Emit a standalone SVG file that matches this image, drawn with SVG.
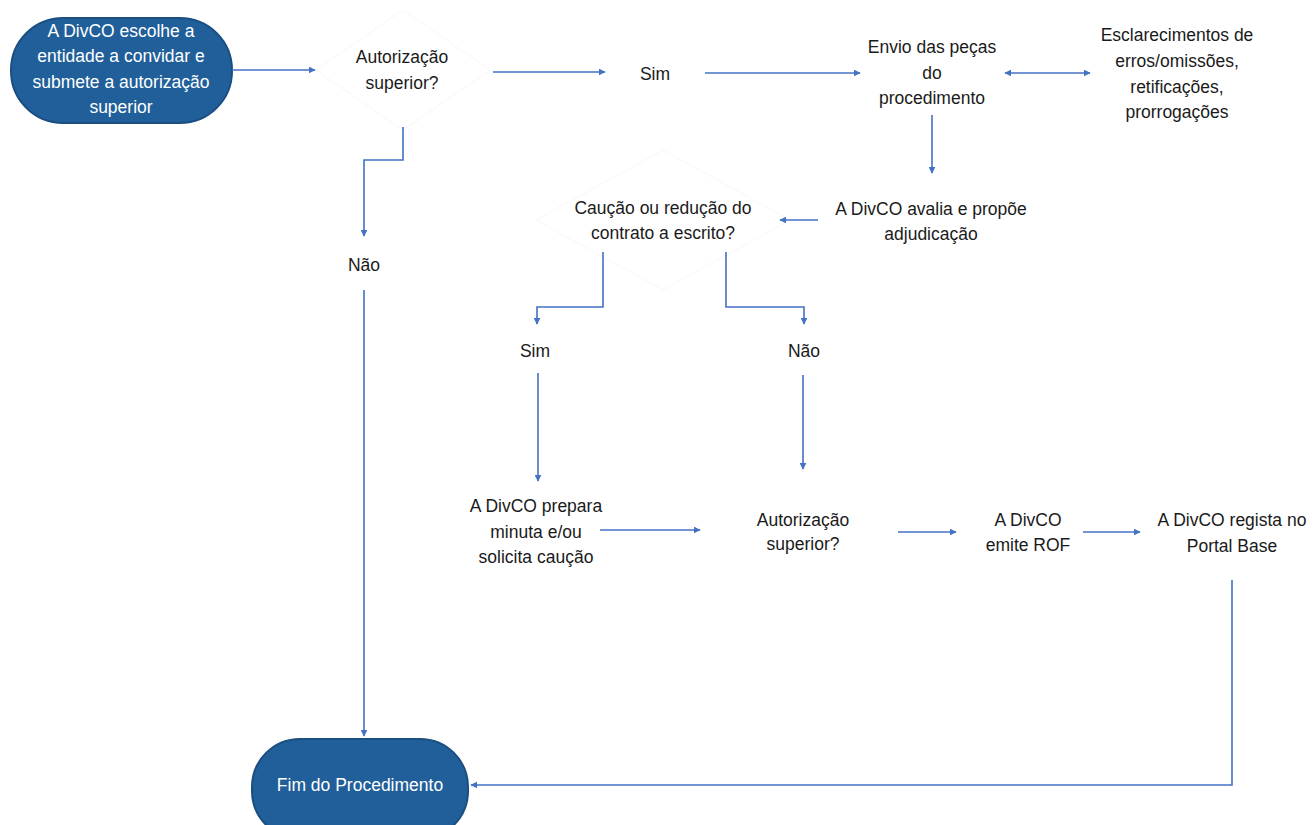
<svg xmlns="http://www.w3.org/2000/svg" width="1314" height="825" viewBox="0 0 1314 825">
<style>
.t{font-family:"Liberation Sans",Arial,sans-serif;font-size:17.5px;fill:#1a1a1a;text-anchor:middle}
.w{fill:#ffffff}
.term{fill:#215f9a;stroke:#1b4f82;stroke-width:2}
.ghost{fill:#ffffff;stroke:#fafafa;stroke-width:1.5}
.c{fill:none;stroke:#4472c4;stroke-width:1.6}
</style>
<defs>
<marker id="ah" viewBox="0 0 10 10" refX="9" refY="5" markerWidth="7" markerHeight="7" orient="auto-start-reverse" markerUnits="userSpaceOnUse">
<path d="M0,0 L10,5 L0,10 z" fill="#4472c4"/>
</marker>
</defs>
<rect width="1314" height="825" fill="#ffffff"/>

<g id="n-start">
<rect class="term" x="11" y="18" width="221" height="105" rx="52" ry="52"/>
<text class="t w" x="121" y="37">A DivCO escolhe a</text>
<text class="t w" x="121" y="62">entidade a convidar e</text>
<text class="t w" x="121" y="88">submete a autorização</text>
<text class="t w" x="121" y="113">superior</text>
</g>

<g id="n-auth1">
<path class="ghost" d="M403,10 L490,70 L403,130 L316,70 z"/>
<text class="t" x="402" y="63">Autorização</text>
<text class="t" x="402" y="89">superior?</text>
</g>

<g id="n-sim1">
<text class="t" x="655" y="80">Sim</text>
</g>

<g id="n-envio">
<text class="t" x="932" y="53">Envio das peças</text>
<text class="t" x="932" y="79">do</text>
<text class="t" x="932" y="104">procedimento</text>
</g>

<g id="n-escl">
<text class="t" x="1177" y="41">Esclarecimentos de</text>
<text class="t" x="1177" y="67">erros/omissões,</text>
<text class="t" x="1177" y="93">retificações,</text>
<text class="t" x="1177" y="118">prorrogações</text>
</g>

<g id="n-nao1">
<text class="t" x="364" y="271">Não</text>
</g>

<g id="n-avalia">
<text class="t" x="931" y="215">A DivCO avalia e propõe</text>
<text class="t" x="931" y="240">adjudicação</text>
</g>

<g id="n-caucao">
<path class="ghost" d="M663,150 L790,220 L663,290 L536,220 z"/>
<text class="t" x="663" y="214">Caução ou redução do</text>
<text class="t" x="663" y="239">contrato a escrito?</text>
</g>

<g id="n-sim2">
<text class="t" x="535" y="357">Sim</text>
</g>

<g id="n-nao2">
<text class="t" x="804" y="357">Não</text>
</g>

<g id="n-prepara">
<text class="t" x="536" y="512">A DivCO prepara</text>
<text class="t" x="536" y="538">minuta e/ou</text>
<text class="t" x="536" y="563">solicita caução</text>
</g>

<g id="n-auth2">
<text class="t" x="803" y="526">Autorização</text>
<text class="t" x="803" y="550">superior?</text>
</g>

<g id="n-rof">
<text class="t" x="1028" y="526">A DivCO</text>
<text class="t" x="1028" y="551">emite ROF</text>
</g>

<g id="n-regista">
<text class="t" x="1232" y="526">A DivCO regista no</text>
<text class="t" x="1232" y="552">Portal Base</text>
</g>

<g id="n-fim">
<rect class="term" x="252" y="739" width="216" height="100" rx="48" ry="48"/>
<text class="t w" x="360" y="791">Fim do Procedimento</text>
</g>

<g id="connectors">
<path class="c" d="M232,70 H315" marker-end="url(#ah)"/>
<path class="c" d="M493,72 H605" marker-end="url(#ah)"/>
<path class="c" d="M705,73 H860" marker-end="url(#ah)"/>
<path class="c" d="M1005,73 H1090" marker-start="url(#ah)" marker-end="url(#ah)"/>
<path class="c" d="M403,127 V160 H364 V236" marker-end="url(#ah)"/>
<path class="c" d="M364,290 V736" marker-end="url(#ah)"/>
<path class="c" d="M932,115 V173" marker-end="url(#ah)"/>
<path class="c" d="M818,220 H780" marker-end="url(#ah)"/>
<path class="c" d="M603,252 V307 H537 V324" marker-end="url(#ah)"/>
<path class="c" d="M726,252 V307 H804 V324" marker-end="url(#ah)"/>
<path class="c" d="M538,373 V481" marker-end="url(#ah)"/>
<path class="c" d="M803,375 V469" marker-end="url(#ah)"/>
<path class="c" d="M600,530 H700" marker-end="url(#ah)"/>
<path class="c" d="M898,532 H956" marker-end="url(#ah)"/>
<path class="c" d="M1083,532 H1140" marker-end="url(#ah)"/>
<path class="c" d="M1232,580 V785 H471" marker-end="url(#ah)"/>
</g>
</svg>
